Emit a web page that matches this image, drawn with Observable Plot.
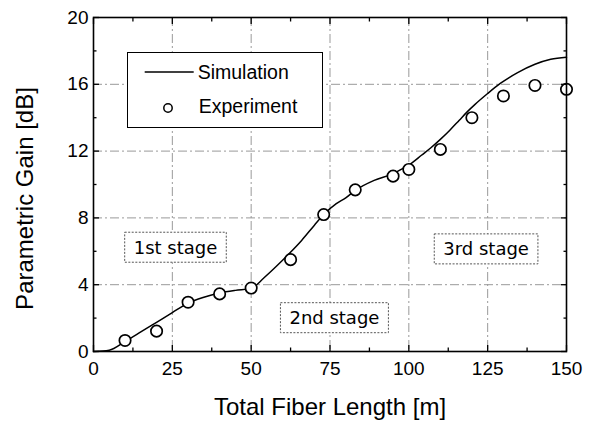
<!DOCTYPE html>
<html><head><meta charset="utf-8">
<script src="https://cdn.jsdelivr.net/npm/d3@7"></script>
<script src="https://cdn.jsdelivr.net/npm/@observablehq/plot@0.6"></script>
<style>
html,body{margin:0;padding:0;background:#fff;}
#wrap{position:relative;width:591px;height:422px;font-family:"Liberation Sans",Arial,sans-serif;}
#legend{position:absolute;left:127px;top:52px;width:196px;height:76px;box-sizing:border-box;border:1.3px solid #000;background:#fff;}
#legend svg{position:absolute;left:0;top:0;}
</style></head><body><div id="wrap"></div>
<script>
// ---- data ----
const simX = [0, 5, 10, 15, 20, 25, 30, 35, 40, 45, 50, 54, 58, 62, 66, 70, 73, 77, 80, 83, 89, 95, 98, 101, 104, 107, 110, 113, 116, 118.5, 121, 125, 129, 134.5, 140, 145, 150];
const simY = [0, 0.08, 0.6, 1.17, 1.75, 2.33, 2.9, 3.25, 3.5, 3.66, 3.78, 4.4, 5.1, 5.85, 6.65, 7.55, 8.2, 8.85, 9.2, 9.65, 10.25, 10.65, 10.95, 11.3, 11.75, 12.2, 12.7, 13.25, 13.85, 14.35, 14.8, 15.45, 16.05, 16.7, 17.2, 17.5, 17.62];
const expX = [10, 20, 30, 40, 50, 62.5, 73, 83, 95, 100, 110, 120, 130, 140, 150];
const expY = [0.66, 1.22, 2.95, 3.45, 3.8, 5.5, 8.2, 9.68, 10.5, 10.9, 12.1, 14.0, 15.3, 15.93, 15.7];
const xTicks = [0, 25, 50, 75, 100, 125, 150];
const xMinor = [12.5, 37.5, 62.5, 87.5, 112.5, 137.5];
const yTicks = [0, 4, 8, 12, 16, 20];
const yMinor = [2, 6, 10, 14, 18];
const stageNames = ["1st stage", "2nd stage", "3rd stage"];
const seriesNames = ["Simulation", "Experiment"];
const xTitle = "Total Fiber Length [m]";
const yTitle = "Parametric Gain [dB]";

// ---- build ----
const sim = simX.map((x, i) => ({x, y: simY[i]}));
const exp = expX.map((x, i) => ({x, y: expY[i]}));
const stageAt = [[26, 6.2], [76.4, 1.98], [124.5, 6.1]];
const stages = stageNames.map((name, i) => ({name, x: stageAt[i][0], y: stageAt[i][1]}));
const xGrid = xTicks.slice(1, -1), yGrid = yTicks.slice(1, -1);
const blank = () => "";
const gridStyle = {stroke: "#999", strokeOpacity: 1, strokeWidth: 1, strokeDasharray: "9,3,2,3"};

const plot = Plot.plot({
  width: 591, height: 422,
  marginLeft: 93, marginRight: 25, marginTop: 17, marginBottom: 71,
  style: {fontFamily: '"Liberation Sans", Arial, sans-serif', fontSize: "19px", color: "#000", background: "#fff"},
  x: {domain: [0, 150], axis: null, label: null},
  y: {domain: [0, 20], axis: null, label: null},
  marks: [
    Plot.gridX(xGrid, gridStyle),
    Plot.gridY(yGrid, gridStyle),
    Plot.line(sim, {x: "x", y: "y", curve: "monotone-x", stroke: "#000", strokeWidth: 1.5}),
    Plot.dot(exp, {x: "x", y: "y", r: 5.7, stroke: "#000", strokeWidth: 1.7, fill: "#fff"}),
    Plot.text(stages, {x: "x", y: "y", text: "name", fontSize: 18, fontFamily: '"DejaVu Sans", sans-serif', fill: "#000", className: "stage"}),
    // tick labels
    Plot.axisX({ticks: xTicks, tickSize: 0, tickPadding: 10, label: null, fontSize: 19}),
    Plot.axisY({ticks: yTicks, tickSize: 0, tickPadding: 5, label: null, fontSize: 19}),
    // inward ticks on all sides
    Plot.axisX({ticks: xTicks, anchor: "bottom", tickSize: -6, tickFormat: blank, label: null, strokeWidth: 1.3}),
    Plot.axisX({ticks: xMinor, anchor: "bottom", tickSize: -3.5, tickFormat: blank, label: null, strokeWidth: 1.3}),
    Plot.axisX({ticks: xTicks, anchor: "top", tickSize: -6, tickFormat: blank, label: null, strokeWidth: 1.3}),
    Plot.axisX({ticks: xMinor, anchor: "top", tickSize: -3.5, tickFormat: blank, label: null, strokeWidth: 1.3}),
    Plot.axisY({ticks: yTicks, anchor: "left", tickSize: -6, tickFormat: blank, label: null, strokeWidth: 1.3}),
    Plot.axisY({ticks: yMinor, anchor: "left", tickSize: -3.5, tickFormat: blank, label: null, strokeWidth: 1.3}),
    Plot.axisY({ticks: yTicks, anchor: "right", tickSize: -6, tickFormat: blank, label: null, strokeWidth: 1.3}),
    Plot.axisY({ticks: yMinor, anchor: "right", tickSize: -3.5, tickFormat: blank, label: null, strokeWidth: 1.3}),
    // titles
    Plot.text([xTitle], {frameAnchor: "bottom", textAnchor: "middle", lineAnchor: "top", dy: 46, fontSize: 24, fill: "#000"}),
    Plot.text([yTitle], {frameAnchor: "left", textAnchor: "middle", lineAnchor: "top", rotate: -90, dx: -78, dy: 14, fontSize: 24, fill: "#000"}),
    Plot.frame({stroke: "#000", strokeWidth: 1.6})
  ]
});
const wrap = document.getElementById("wrap");
wrap.appendChild(plot);

// boxes behind stage labels
d3.select(plot).selectAll("g.stage text").each(function () {
  const b = this.getBBox();
  const padX = 9, h = 30;
  const r = document.createElementNS("http://www.w3.org/2000/svg", "rect");
  r.setAttribute("x", b.x - padX);
  r.setAttribute("y", b.y + b.height / 2 - h / 2);
  r.setAttribute("width", b.width + 2 * padX);
  r.setAttribute("height", h);
  r.setAttribute("fill", "#fff");
  r.setAttribute("stroke", "#555");
  r.setAttribute("stroke-width", "1");
  r.setAttribute("stroke-dasharray", "2,1.5");
  const t = this.getAttribute("transform");
  if (t) r.setAttribute("transform", t);
  this.parentNode.insertBefore(r, this);
});

// legend
const leg = document.createElement("div");
leg.id = "legend";
leg.innerHTML = `<svg width="194" height="74" font-family='"Liberation Sans", Arial, sans-serif' font-size="19.5">
  <line x1="16.7" x2="65.7" y1="19" y2="19" stroke="#000" stroke-width="1.4"/>
  <text x="69.7" y="25.5" fill="#000">${seriesNames[0]}</text>
  <circle cx="40" cy="55" r="4.2" fill="#fff" stroke="#000" stroke-width="1.5"/>
  <text x="70.7" y="60" fill="#000">${seriesNames[1]}</text>
</svg>`;
wrap.appendChild(leg);
</script>
</body></html>
